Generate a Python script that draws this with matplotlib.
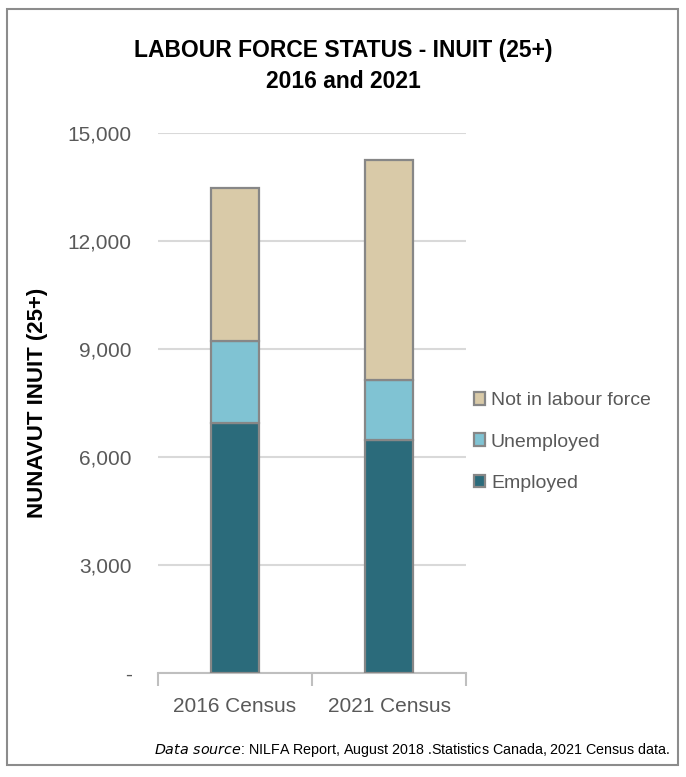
import matplotlib.pyplot as plt
from matplotlib.patches import Rectangle
from matplotlib.ticker import FuncFormatter

plt.rcParams['font.family'] = ['Liberation Sans', 'DejaVu Sans']

# values (persons)
categories = ['2016 Census', '2021 Census']
employed = [6940, 6470]
unemployed = [2280, 1670]
not_in_lf = [4250, 6110]
yticks = [0, 3000, 6000, 9000, 12000, 15000]

c_emp = '#2b6b7b'
c_unemp = '#80c3d3'
c_nilf = '#d9caa8'
edge = '#878787'
grey_txt = '#595959'

W, H = 686, 777
fig = plt.figure(figsize=(W / 100, H / 100), dpi=100)

# outer chart border
fig.patches.append(Rectangle((7 / W, 1 - 765 / H), 671 / W, 756 / H,
                             transform=fig.transFigure, fill=False,
                             edgecolor='#8c8c8c', linewidth=1.5))

ax = fig.add_axes([158 / W, 1 - 673 / H, 308 / W, 540 / H])

x = range(len(categories))
bw = 0.31
bot2 = [e + u for e, u in zip(employed, unemployed)]
ax.bar(x, employed, bw, color=c_emp, edgecolor=edge, linewidth=1.6, label='Employed', zorder=3)
ax.bar(x, unemployed, bw, bottom=employed, color=c_unemp, edgecolor=edge, linewidth=1.6,
       label='Unemployed', zorder=3)
ax.bar(x, not_in_lf, bw, bottom=bot2, color=c_nilf, edgecolor=edge, linewidth=1.6,
       label='Not in labour force', zorder=3)

ax.set_xlim(-0.5, 1.5)
ax.set_ylim(0, 15000)
ax.set_yticks(yticks)
ax.yaxis.set_major_formatter(FuncFormatter(lambda v, p: '-' if v == 0 else f'{int(v):,}'))
ax.grid(axis='y', color='#d9d9d9', linewidth=1.5, zorder=0)
ax.set_axisbelow(True)

for s in ['top', 'right', 'left']:
    ax.spines[s].set_visible(False)
ax.spines['bottom'].set_color('#bfbfbf')
ax.spines['bottom'].set_linewidth(1.5)

ax.set_xticks(list(x))
ax.set_xticklabels(categories)
ax.set_xticks([-0.5, 0.5, 1.5], minor=True)
ax.tick_params(axis='x', which='major', length=0, pad=17, labelsize=15, labelcolor=grey_txt)
ax.tick_params(axis='x', which='minor', length=9, width=1.5, color='#bfbfbf')
ax.tick_params(axis='y', length=0, pad=19, labelsize=15, labelcolor=grey_txt)

ax.set_ylabel('NUNAVUT INUIT (25+)', fontsize=16, fontweight='bold', color='black')
ax.yaxis.set_label_coords(-110 / 308, 0.5)

fig.text(343 / W, 1 - 50 / H, 'LABOUR FORCE STATUS - INUIT (25+)', ha='center', va='center',
         fontsize=16.5, fontweight='bold')
fig.text(343 / W, 1 - 82 / H, '2016 and 2021', ha='center', va='center',
         fontsize=16.5, fontweight='bold')

h, l = ax.get_legend_handles_labels()
leg = fig.legend(h[::-1], l[::-1], loc='center left', bbox_to_anchor=(456 / W, 1 - 442 / H),
                 frameon=False, fontsize=14, labelcolor=grey_txt, handlelength=0.6,
                 handleheight=0.6, handletextpad=0.3, labelspacing=1.25)

fig.text(412 / W, 1 - 750 / H, r'$\it{Data\ source}$: NILFA Report, August 2018 .Statistics Canada, 2021 Census data.',
         ha='center', va='center', fontsize=10.3)

fig.savefig('out.png', dpi=100)
